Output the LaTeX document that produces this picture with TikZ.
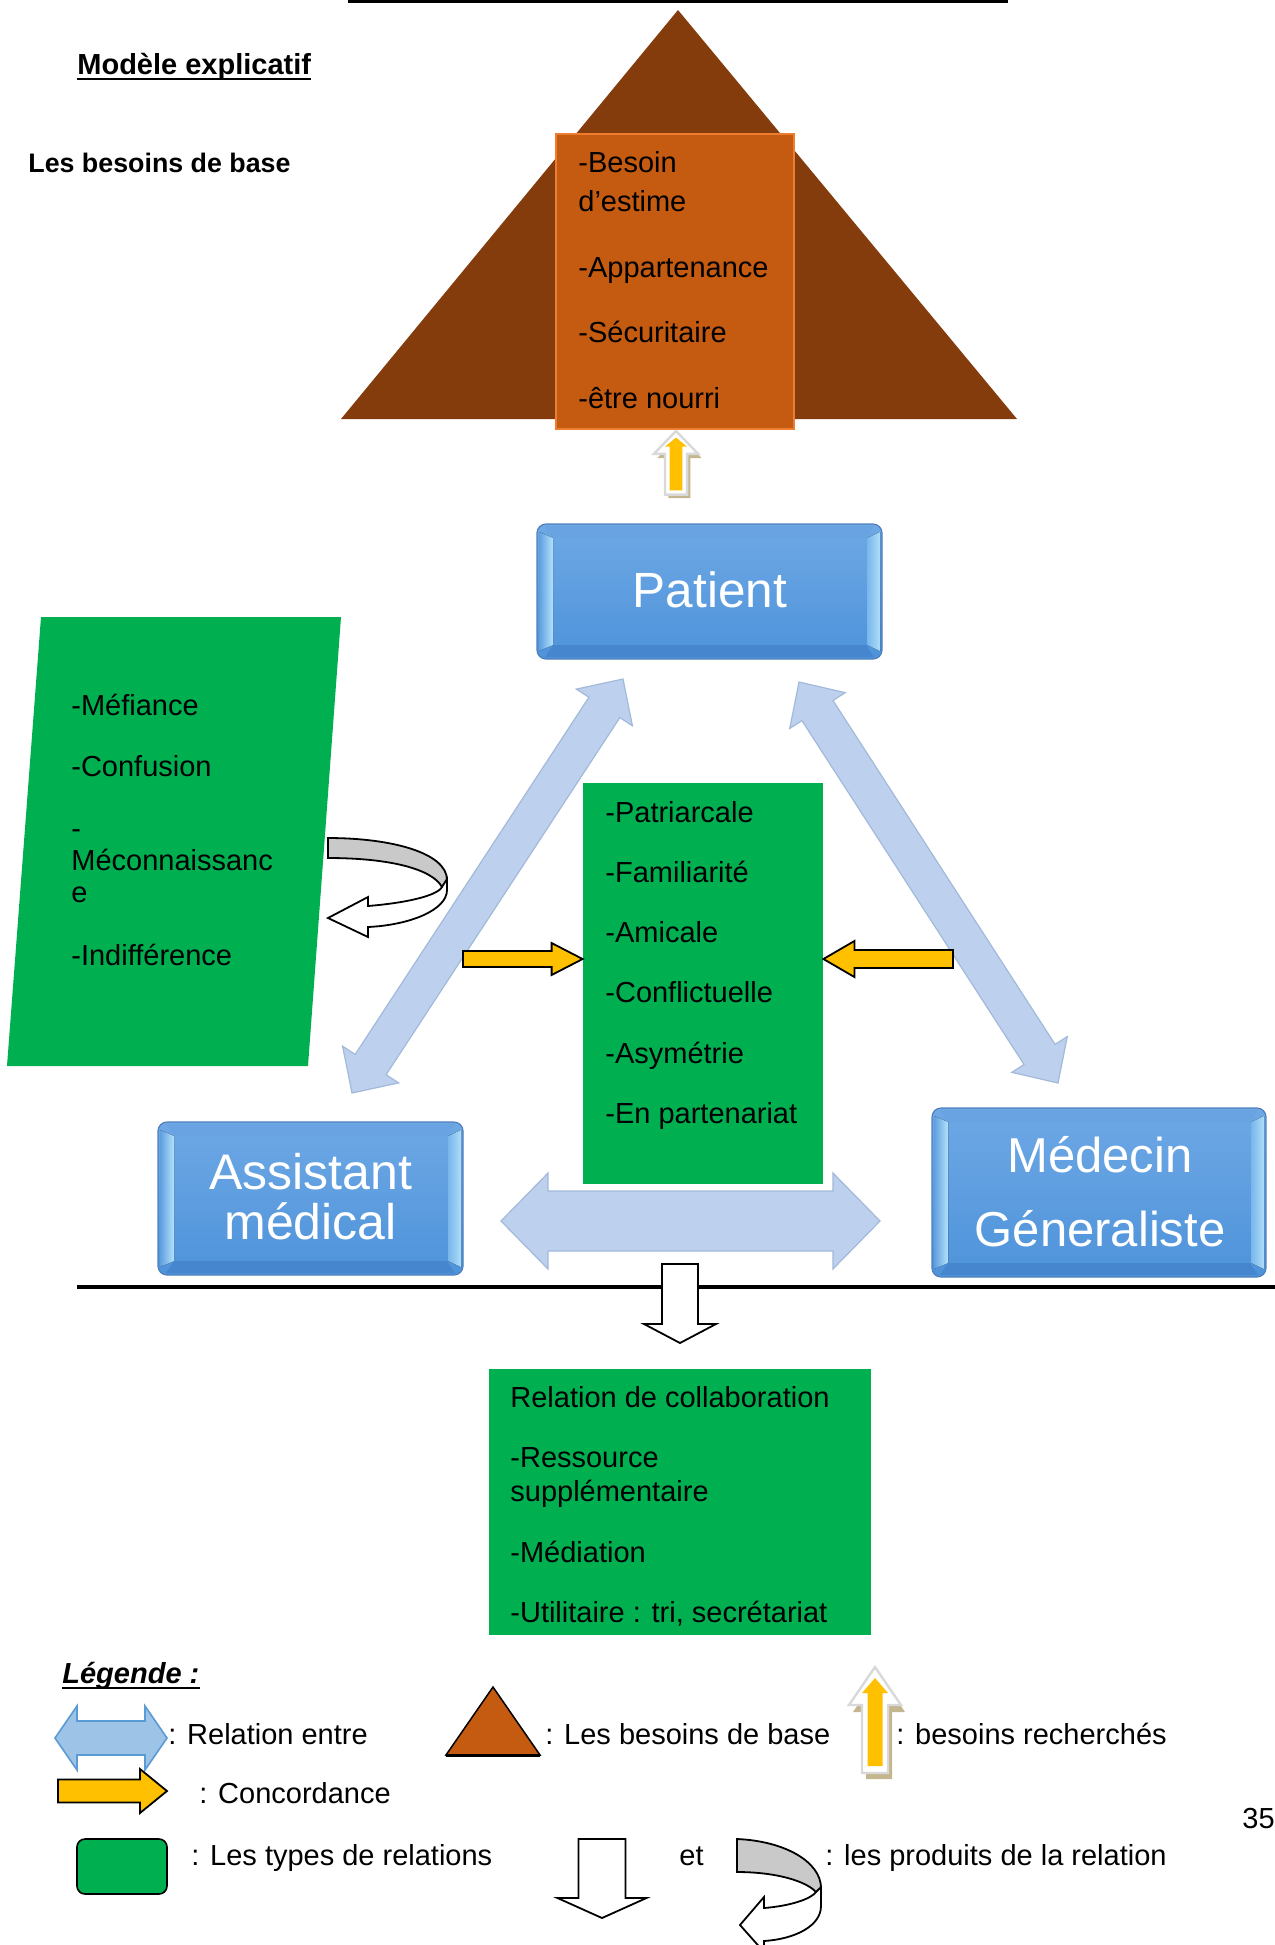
\documentclass[tikz,border=0pt]{standalone}
\usepackage{fontspec}
\setmainfont{Liberation Sans}
\usetikzlibrary{calc,fit}
\definecolor{brownd}{HTML}{843C0C}
\definecolor{orangeb}{HTML}{C55A11}
\definecolor{orangeL}{HTML}{ED7D31}
\definecolor{greenb}{HTML}{00B050}
\definecolor{arrowblue}{HTML}{BDD1EF}
\definecolor{arrowblueD}{HTML}{A3B9DA}
\definecolor{legblue}{HTML}{9DC3E6}
\definecolor{legblueD}{HTML}{5B9BD5}
\definecolor{yel}{HTML}{FFC000}
\definecolor{tanc}{HTML}{C4B68E}
\definecolor{glowc}{HTML}{D9D9D9}
\definecolor{grayc}{HTML}{C9C9C9}
\definecolor{btop}{HTML}{6EA8E5}
\definecolor{bbot}{HTML}{4E93DA}
\definecolor{bbord}{HTML}{4F80BD}
\definecolor{bevA}{HTML}{5F9EDF}
\definecolor{bevB}{HTML}{B3E2FB}
\definecolor{bevC}{HTML}{78B6EC}
\definecolor{bevD}{HTML}{AEDDF8}
\definecolor{bevTop}{HTML}{69A3E2}
\definecolor{bevBot}{HTML}{4586CF}

\tikzset{
 txt/.style={anchor=base west, inner sep=0pt, font=\fontsize{14.5}{17.4}\selectfont},
 wtxt/.style={anchor=base, inner sep=0pt, text=white, font=\fontsize{24.75}{29}\selectfont},
 bluebase/.style={rectangle, rounded corners=4.5pt, draw=bbord, line width=0.6pt, top color=btop, bottom color=bbot, inner sep=0pt},
 bluearrow/.style={fill=arrowblue, draw=arrowblueD, line width=0.6pt},
 legbluearrow/.style={fill=legblue, draw=legblueD, line width=0.8pt},
 yelarrow/.style={fill=yel, draw=black, line width=0.9pt},
 whitearrow/.style={fill=white, draw=black, line width=0.9pt},
 curvg/.style={fill=grayc, draw=black, line width=0.9pt},
 curvw/.style={fill=white, draw=black, line width=0.9pt},
}

% double block arrow: style, end A, end B, shaft half width, head half width, head length (px)
\newcommand\mydbl[6]{%
 \pgfmathsetmacro\dA{veclen(#6,#5)*0.5}%
 \pgfmathsetmacro\aA{atan(#5/#6)}%
 \pgfmathsetmacro\dB{veclen(#6,#4)*0.5}%
 \pgfmathsetmacro\aB{atan(#4/#6)}%
 \path[#1] (#2) -- ($(#2)!\dA pt!\aA:(#3)$) -- ($(#2)!\dB pt!\aB:(#3)$)
   -- ($(#3)!\dB pt!-\aB:(#2)$) -- ($(#3)!\dA pt!-\aA:(#2)$) -- (#3)
   -- ($(#3)!\dA pt!\aA:(#2)$) -- ($(#3)!\dB pt!\aB:(#2)$)
   -- ($(#2)!\dB pt!-\aB:(#3)$) -- ($(#2)!\dA pt!-\aA:(#3)$) -- cycle;}
% single block arrow: style, tail, tip, shaft half width, head half width, head length (px)
\newcommand\mysgl[6]{%
 \pgfmathsetmacro\dA{veclen(#6,#5)*0.5}%
 \pgfmathsetmacro\aA{atan(#5/#6)}%
 \pgfmathsetmacro\dB{veclen(#6,#4)*0.5}%
 \pgfmathsetmacro\aB{atan(#4/#6)}%
 \pgfmathsetmacro\wA{#4*0.5}%
 \path[#1] ($(#2)!\wA pt!90:(#3)$) -- ($(#3)!\dB pt!-\aB:(#2)$) -- ($(#3)!\dA pt!-\aA:(#2)$)
   -- (#3) -- ($(#3)!\dA pt!\aA:(#2)$) -- ($(#3)!\dB pt!\aB:(#2)$)
   -- ($(#2)!\wA pt!-90:(#3)$) -- cycle;}
% bevelled blue box: name, x1, y1, x2, y2
\newcommand\mybbox[5]{%
 \node[bluebase, fit={(#2,#3) (#4,#5)}] (#1) {};
 \fill[bevTop] ({#2+8},{#3+2}) -- ({#4-8},{#3+2}) -- ({#4-16},{#3+14}) -- ({#2+16},{#3+14}) -- cycle;
 \fill[bevBot] ({#2+16},{#5-14}) -- ({#4-16},{#5-14}) -- ({#4-8},{#5-2}) -- ({#2+8},{#5-2}) -- cycle;
 \fill[left color=bevA, right color=bevB] ({#2+2},{#3+8}) -- ({#2+16},{#3+14}) -- ({#2+16},{#5-14}) -- ({#2+2},{#5-8}) -- cycle;
 \fill[left color=bevC, right color=bevD] ({#4-2},{#3+8}) -- ({#4-15},{#3+14}) -- ({#4-15},{#5-14}) -- ({#4-2},{#5-8}) -- cycle;}
% glowing up arrow with shadow: x, y of tip, xscale, yscale
\newcommand\myglow[4]{%
 \begin{scope}[shift={(#1,#2)}, xscale=#3, yscale=#4]
  \fill[tanc] (4,7) -- (30,45) -- (17,45) -- (17,112) -- (-9,112) -- (-9,45) -- (-22,45) -- cycle;
  \filldraw[fill=white, draw=glowc, line width=1.2pt] (0,0) -- (26,38) -- (13,38) -- (13,106) -- (-13,106) -- (-13,38) -- (-26,38) -- cycle;
  \fill[yel] (0,11) -- (13,26) -- (7.5,26) -- (7.5,99) -- (-7.5,99) -- (-7.5,26) -- (-13,26) -- cycle;
 \end{scope}}

\begin{document}
\begin{tikzpicture}[x=0.5pt, y=-0.5pt]
\useasboundingbox (0,0) rectangle (1275,1945);
\fill[white] (0,0) rectangle (1275,1945);

% top rule of the cut-off title
\draw[line width=1.5pt] (348,1) -- (1008,1);

% headings
\node[txt, font=\bfseries\fontsize{14.5}{17}\selectfont] (h1) at (77,74) {Modèle explicatif};
\draw[line width=1.25pt] ($(h1.base west)+(0,5)$) -- ($(h1.base east)+(0,5)$);
\node[txt, font=\bfseries\fontsize{13.4}{16}\selectfont] (h2) at (28,172) {Les besoins de base};

% pyramid
\fill[brownd] (678,10) -- (1017,419) -- (341,419) -- cycle;
\node[draw=orangeL, fill=orangeb, line width=0.8pt, inner sep=0pt, fit={(556,134) (794,429)}] (ob) {};
\foreach \tx/\yy [count=\i] in {-Besoin/172, d’estime/211, -Appartenance/277, -Sécuritaire/342, -être nourri/408}
  \node[txt] (ot\i) at (578,\yy) {\tx};

% glowing up arrow
\myglow{676}{431}{0.85}{0.6}

% Patient
\mybbox{pat}{537}{524}{882}{659}
\node[wtxt] (patt) at (710,607) {Patient};

% diagonal and horizontal relation arrows
\coordinate (la1) at (623,679);
\coordinate (la2) at (352,1093);
\coordinate (ra1) at (799,682);
\coordinate (ra2) at (1058,1083);
\coordinate (ha1) at (501,1221);
\coordinate (ha2) at (880,1221);
\mydbl{bluearrow}{la1}{la2}{18.5}{33.5}{34}
\mydbl{bluearrow}{ra1}{ra2}{18.5}{33}{34}
\mydbl{bluearrow}{ha1}{ha2}{30}{48}{47}

% centre box
\node[fill=greenb, inner sep=0pt, fit={(583,783) (823,1184)}] (cb) {};
\foreach \tx/\yy [count=\i] in {-Patriarcale/822, -Familiarité/882, -Amicale/942, -Conflictuelle/1002, -Asymétrie/1063, -En partenariat/1123}
  \node[txt] (ct\i) at (605,\yy) {\tx};

% concordance arrows
\coordinate (ya1) at (463,959);
\coordinate (yb1) at (953,959);
\coordinate (ya2) at (cb.west |- ya1);
\coordinate (yb2) at (cb.east |- yb1);
\mysgl{yelarrow}{ya1}{ya2}{8}{16}{31}
\mysgl{yelarrow}{yb1}{yb2}{9}{18}{31}

% left parallelogram
\fill[greenb] (41,617) -- (341,617) -- (308,1066) -- (7,1066) -- cycle;
\foreach \tx/\yy [count=\i] in {-Méfiance/715, -Confusion/776, -/838, Méconnaissanc/870, e/902, -Indifférence/965}
  \node[txt] (lt\i) at (71,\yy) {\tx};

% curved arrow (product)
\filldraw[curvg] (328,838) .. controls (392,838) and (447,853) .. (447,880) -- (442,887) .. controls (432,869) and (390,858) .. (328,858) -- cycle;
\filldraw[curvw] (447,879) -- (447,890) .. controls (447,910) and (410,925) .. (368,927) -- (368,937) -- (328,918) -- (368,897) -- (368,906) .. controls (405,903) and (437,896) .. (442,887) -- cycle;

% Assistant medical and Medecin generaliste
\mybbox{am}{158}{1122}{463}{1275}
\node[wtxt, font=\fontsize{25}{29}\selectfont] (amt1) at (310.5,1189) {Assistant};
\node[wtxt, font=\fontsize{25}{29}\selectfont] (amt2) at (310.5,1239) {médical};
\mybbox{mg}{932}{1108}{1266}{1277}
\node[wtxt, font=\fontsize{24.5}{29}\selectfont] (mgt1) at (1100,1172) {Médecin};
\node[wtxt, font=\fontsize{24.5}{29}\selectfont] (mgt2) at (1100,1246) {Géneraliste};

% separating line and down arrow
\coordinate (sl1) at (77,1287);
\coordinate (sl2) at (1275,1287);
\draw[line width=2pt] (sl1) -- (sl2);
\coordinate (da1) at (680,1264);
\coordinate (da2) at (680,1343);
\mysgl{whitearrow}{da1}{da2}{18}{36}{19}

% bottom box
\node[fill=greenb, inner sep=0pt, fit={(489,1369) (871,1635)}] (bb) {};
\foreach \tx/\yy [count=\i] in {Relation de collaboration/1407, -Ressource/1467, supplémentaire/1501, -Médiation/1562}
  \node[txt] (bt\i) at (510,\yy) {\tx};
\node[txt] (bt5) at (510,1622) {-Utilitaire : tri, secrétariat};

% legend
\node[txt, font=\bfseries\itshape\fontsize{14.5}{17}\selectfont] (lg) at (62,1683) {Légende :};
\draw[line width=1.25pt] ($(lg.base west)+(0,5)$) -- ($(lg.base east)+(0,5)$);

\coordinate (lb1) at (55,1738);
\coordinate (lb2) at (167,1738);
\mydbl{legbluearrow}{lb1}{lb2}{17}{32}{22}
\node[txt] (l1) at (168,1744) {: Relation entre};

\filldraw[fill=orangeb, draw=black, line width=0.75pt] (493,1687) -- (540,1755) -- (446,1755) -- cycle;
\draw[line width=1.5pt] (446,1755) -- (540,1755);
\node[txt] (l2) at (545,1744) {: Les besoins de base};

\myglow{875}{1667}{1}{1}
\node[txt] (l3) at (896,1744) {: besoins recherchés};

\coordinate (ly1) at (58,1791);
\coordinate (ly2) at (167,1791);
\mysgl{yelarrow}{ly1}{ly2}{11.5}{22}{27}
\node[txt] (l4) at (199,1803) {: Concordance};

\node[txt] (pg) at (1242,1828) {35};

\node[fill=greenb, draw=black, line width=0.8pt, rounded corners=4pt, inner sep=0pt, fit={(77,1839) (167,1894)}] (lgr) {};
\node[txt] (l5) at (191,1865) {: Les types de relations};

\coordinate (ld1) at (602,1839);
\coordinate (ld2) at (602,1918);
\mysgl{whitearrow}{ld1}{ld2}{23.5}{44.5}{20}
\node[txt] (l6) at (679,1865) {et};

\filldraw[curvg] (737,1839) .. controls (785,1841) and (821,1862) .. (821,1888) -- (816,1892) .. controls (806,1881) and (776,1872) .. (737,1872) -- cycle;
\filldraw[curvw] (821,1887) -- (821,1906) .. controls (821,1926) and (795,1939) .. (764,1941) -- (764,1952) -- (740,1925) -- (764,1897) -- (764,1908) .. controls (790,1906) and (811,1899) .. (816,1892) -- cycle;
\node[txt] (l7) at (825,1865) {: les produits de la relation};
\end{tikzpicture}
\end{document}
